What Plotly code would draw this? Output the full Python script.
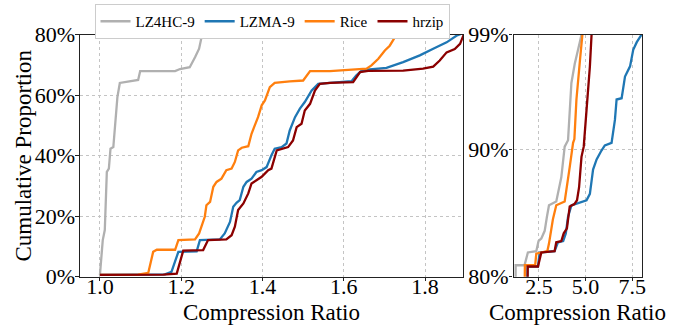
import plotly.graph_objects as go

# ---------------- data ----------------
series_names = ["LZ4HC-9", "LZMA-9", "Rice", "hrzip"]

lz4_ratio = [1.000, 1.003, 1.007, 1.012, 1.017, 1.022, 1.026, 1.033, 1.037, 1.043, 1.049,
             1.082, 1.094, 1.099, 1.185, 1.197, 1.221, 1.234, 1.244, 1.250, 1.255, 1.73,
             1.91, 2.36, 2.48, 2.63, 2.81, 2.93, 3.04, 3.43, 3.70, 3.88, 4.06, 4.24, 4.42,
             4.69, 4.78]
lz4_pct = [0.5, 6.0, 12.1, 15.4, 34.6, 35.7, 42.3, 42.8, 50.0, 59.3, 64.0,
           64.6, 65.0, 67.9, 67.9, 68.6, 69.2, 72.5, 75.3, 79.1, 80.9, 80.9,
           81.9, 82.0, 82.8, 83.0, 83.6, 84.7, 85.6, 85.9, 87.8, 90.2, 90.7, 95.2, 96.7,
           98.4, 99.0]

lzma_ratio = [1.000, 1.160, 1.176, 1.185, 1.193, 1.238, 1.246, 1.295, 1.307, 1.320, 1.328,
              1.336, 1.344, 1.353, 1.361, 1.373, 1.385, 1.398, 1.410, 1.422, 1.430, 1.447,
              1.459, 1.467, 1.480, 1.492, 1.504, 1.521, 1.537, 1.566, 1.619, 1.631, 1.644,
              1.664, 1.705, 1.746, 1.787, 1.820, 1.853, 1.877, 1.885, 1.90, 2.45, 2.54,
              3.34, 3.52, 3.80, 3.94, 4.06, 4.24, 5.05, 5.23, 5.40, 5.59, 5.85, 6.03, 6.39,
              6.57, 6.66, 6.93, 7.11, 7.38, 7.55, 7.74, 8.00]
lzma_pct = [0.6, 0.8, 1.6, 5.0, 8.2, 8.4, 12.1, 12.3, 14.3, 18.1, 23.1,
            24.4, 25.3, 29.7, 31.3, 32.4, 34.6, 35.2, 36.2, 40.1, 42.3, 42.8,
            44.0, 48.3, 52.7, 55.5, 57.7, 61.5, 63.7, 64.0, 64.6, 66.5, 68.1,
            68.5, 69.0, 70.9, 73.1, 75.3, 77.4, 79.6, 80.0, 80.8, 80.8, 81.9,
            82.0, 82.7, 82.8, 83.4, 84.7, 85.6, 86.0, 86.5, 88.4, 89.2, 89.9, 90.3, 90.5,
            92.3, 93.9, 94.0, 95.7, 96.5, 97.8, 98.4, 99.0]

rice_ratio = [1.000, 1.094, 1.119, 1.125, 1.131, 1.140, 1.185, 1.193, 1.234, 1.244, 1.250,
              1.258, 1.262, 1.271, 1.279, 1.287, 1.299, 1.311, 1.324, 1.332, 1.340, 1.349,
              1.365, 1.373, 1.381, 1.389, 1.398, 1.406, 1.418, 1.430, 1.467, 1.500, 1.517,
              1.566, 1.656, 1.668, 1.685, 1.701, 1.713, 1.726, 1.73, 1.75, 2.30, 2.36,
              2.95, 3.04, 3.25, 3.43, 3.88, 4.00, 4.15, 4.33, 4.40, 4.51, 4.60, 4.70, 4.83]
rice_pct = [0.6, 0.7, 1.3, 4.9, 8.2, 8.9, 8.9, 12.1, 12.3, 14.3, 16.5,
            19.8, 23.6, 24.7, 29.7, 31.3, 32.4, 35.2, 35.7, 37.9, 41.7, 42.6,
            43.1, 47.2, 50.0, 52.7, 56.6, 58.2, 62.6, 64.0, 64.5, 64.8, 67.9,
            67.9, 68.7, 69.8, 72.0, 74.7, 76.3, 79.1, 80.0, 80.9, 80.9, 81.8,
            82.0, 82.6, 84.5, 85.6, 85.9, 87.0, 88.6, 90.5, 90.8, 93.9, 95.7, 97.0, 99.0]

hrzip_ratio = [1.000, 1.156, 1.189, 1.197, 1.205, 1.254, 1.266, 1.311, 1.324, 1.332, 1.340,
               1.353, 1.365, 1.373, 1.385, 1.398, 1.414, 1.422, 1.435, 1.463, 1.475, 1.484,
               1.496, 1.504, 1.517, 1.529, 1.541, 1.566, 1.623, 1.640, 1.660, 1.746, 1.795,
               1.820, 1.836, 1.853, 1.873, 1.886, 1.894, 1.90, 2.45, 2.63, 3.34, 3.43,
               3.70, 3.83, 4.00, 4.15, 4.40, 4.54, 4.65, 4.78, 4.90, 5.05, 5.13, 5.23, 5.32]
hrzip_pct = [0.6, 0.7, 1.0, 4.4, 8.6, 8.8, 12.1, 12.3, 13.7, 16.5, 22.0,
             24.2, 27.5, 30.8, 31.9, 33.0, 35.2, 35.7, 41.7, 42.8, 45.0, 49.4,
             50.5, 54.9, 57.1, 61.5, 63.7, 64.0, 64.3, 67.6, 68.0, 68.1, 68.7,
             69.4, 71.4, 74.1, 75.2, 76.9, 79.6, 80.8, 80.8, 81.9, 82.0, 82.7,
             82.8, 83.4, 83.8, 85.5, 85.7, 86.0, 87.0, 89.4, 90.2, 93.1, 94.4, 96.5, 99.0]

left_xticks = [1.0, 1.2, 1.4, 1.6, 1.8]
left_xlabels = ["1.0", "1.2", "1.4", "1.6", "1.8"]
left_yticks = [0, 20, 40, 60, 80]
left_ylabels = ["0%", "20%", "40%", "60%", "80%"]
right_xticks = [2.5, 5.0, 7.5]
right_xlabels = ["2.5", "5.0", "7.5"]
right_yticks = [80, 90, 99]
right_ylabels = ["80%", "90%", "99%"]

x_title = "Compression Ratio"
y_title = "Cumulative Proportion"

# ---------------- styling ----------------
colors = ["#b0b0b0", "#1f77b4", "#ff7f0e", "#8b0000"]
FONT = "Liberation Serif"
W, H = 683, 326

ratios = [lz4_ratio, lzma_ratio, rice_ratio, hrzip_ratio]
pcts = [lz4_pct, lzma_pct, rice_pct, hrzip_pct]

fig = go.Figure()
for name, xr, yp, c in zip(series_names, ratios, pcts, colors):
    fig.add_trace(go.Scatter(x=xr, y=yp, mode="lines", name=name,
                             line=dict(color=c, width=2.3),
                             xaxis="x", yaxis="y", showlegend=True))
for name, xr, yp, c in zip(series_names, ratios, pcts, colors):
    fig.add_trace(go.Scatter(x=xr, y=yp, mode="lines", name=name,
                             line=dict(color=c, width=2.3),
                             xaxis="x2", yaxis="y2", showlegend=False))

# pixel geometry
L_x0, L_x1 = 80, 463.3
R_x0, R_x1 = 513.5, 642
Y_top, Y_bot = 34.5, 276.7

def xd(a, b):
    return [a / W, b / W]

ydom = [(H - Y_bot) / H, (H - Y_top) / H]

axis_common = dict(
    showline=True, linecolor="#222222", linewidth=1.2, mirror=True,
    ticks="outside", ticklen=3.5, tickwidth=1, tickcolor="#222222",
    showgrid=True, gridcolor="#c4c4c4", griddash="dot", gridwidth=1,
    zeroline=False, automargin=False, ticklabelposition="outside",
)
tickf = dict(size=22, family=FONT, color="black")
titlef = dict(size=23, family=FONT, color="black")

fig.update_layout(
    width=W, height=H,
    margin=dict(l=0, r=0, t=0, b=0, autoexpand=False),
    paper_bgcolor="white", plot_bgcolor="white",
    font=dict(family=FONT, color="black"),
    xaxis=dict(domain=xd(L_x0, L_x1), range=[0.951, 1.894], anchor="y",
               tickvals=left_xticks, ticktext=left_xlabels, tickfont=tickf,
               ticklabelstandoff=-14, **axis_common),
    yaxis=dict(domain=ydom, range=[0, 80], anchor="x",
               tickvals=left_yticks, ticktext=left_ylabels, tickfont=tickf,
               ticklabelstandoff=-4, **axis_common),
    xaxis2=dict(domain=xd(R_x0, R_x1), range=[1.14, 8.02], anchor="y2",
                tickvals=right_xticks, ticktext=right_xlabels, tickfont=tickf,
                ticklabelstandoff=-14, **axis_common),
    yaxis2=dict(domain=ydom, range=[80, 99], anchor="x2",
                tickvals=right_yticks, ticktext=right_ylabels, tickfont=tickf,
                ticklabelstandoff=-4, **axis_common),
    legend=dict(orientation="h", x=272 / W, xanchor="center",
                y=1 - 4 / H, yanchor="top",
                bordercolor="#cccccc", borderwidth=1, bgcolor="white",
                font=dict(size=15, family=FONT, color="black")),
    annotations=[
        dict(text=x_title, xref="paper", yref="paper",
             x=(L_x0 + L_x1) / 2 / W, y=(H - 312) / H,
             xanchor="center", yanchor="middle", showarrow=False, font=titlef),
        dict(text=x_title, xref="paper", yref="paper",
             x=577 / W, y=(H - 312) / H,
             xanchor="center", yanchor="middle", showarrow=False, font=titlef),
        dict(text=y_title, xref="paper", yref="paper", textangle=-90,
             x=23 / W, y=(H - 155.5) / H,
             xanchor="center", yanchor="middle", showarrow=False, font=titlef),
    ],
)

fig.write_html("out.html")
